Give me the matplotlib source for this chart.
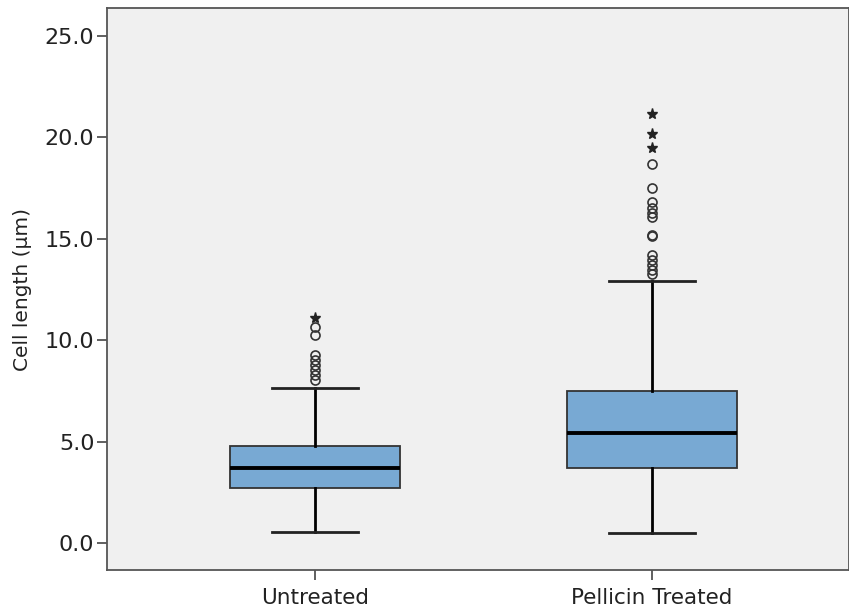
import matplotlib
matplotlib.use("Agg")
import matplotlib.pyplot as plt

categories = ["Untreated", "Pellicin Treated"]
q1 = [2.71, 3.69]
medians = [3.69, 5.42]
q3 = [4.78, 7.49]
whisker_low = [0.54, 0.49]
whisker_high = [7.63, 12.90]
outliers_circle = [
    [8.03, 8.28, 8.52, 8.77, 9.01, 9.26, 10.28, 10.66],
    [13.28, 13.45, 13.69, 13.94, 14.19, 15.12, 15.20, 16.05, 16.25, 16.50, 16.80, 17.52, 18.70],
]
outliers_star = [
    [11.10],
    [19.49, 20.18, 21.13],
]
yticks = [0, 5, 10, 15, 20, 25]

fig = plt.figure(figsize=(8.49, 6.11), dpi=100)
ax = fig.add_axes([0.126, 0.067, 0.874, 0.920])
ax.set_facecolor("#f0f0f0")

stats = []
for i, c in enumerate(categories):
    stats.append(dict(label=c, q1=q1[i], med=medians[i], q3=q3[i],
                      whislo=whisker_low[i], whishi=whisker_high[i], fliers=[]))
positions = [1, 2]
ax.bxp(stats, positions=positions, widths=0.505, patch_artist=True, showfliers=False,
       capwidths=0.255,
       boxprops=dict(facecolor="#78a9d3", edgecolor="#333333", linewidth=1.3),
       medianprops=dict(color="black", linewidth=2.8),
       whiskerprops=dict(color="black", linewidth=2.0),
       capprops=dict(color="#222222", linewidth=2.0))

for p, oc, os_ in zip(positions, outliers_circle, outliers_star):
    ax.plot([p] * len(oc), oc, linestyle="none", marker="o", markersize=6.5,
            markerfacecolor="none", markeredgecolor="#333333", markeredgewidth=1.2)
    ax.plot([p] * len(os_), os_, linestyle="none", marker="*", markersize=8,
            color="#222222")

ax.set_xlim(0.383, 2.585)
ax.set_ylim(-1.33, 26.38)
ax.set_yticks(yticks)
ax.set_yticklabels([f"{v:.1f}" for v in yticks], fontsize=16, color="#222222")
ax.set_xticks(positions)
ax.set_xticklabels(categories, fontsize=15.5, color="#222222")
ax.tick_params(axis="both", direction="out", length=7, width=1.2, color="#444444")
ax.tick_params(axis="y", pad=2)
ax.tick_params(axis="x", pad=6)
ax.set_ylabel("Cell length (µm)", fontsize=14.5, color="#222222", labelpad=9)
for s in ax.spines.values():
    s.set_color("#555555")
    s.set_linewidth(1.3)

fig.savefig("out.png", dpi=100)
